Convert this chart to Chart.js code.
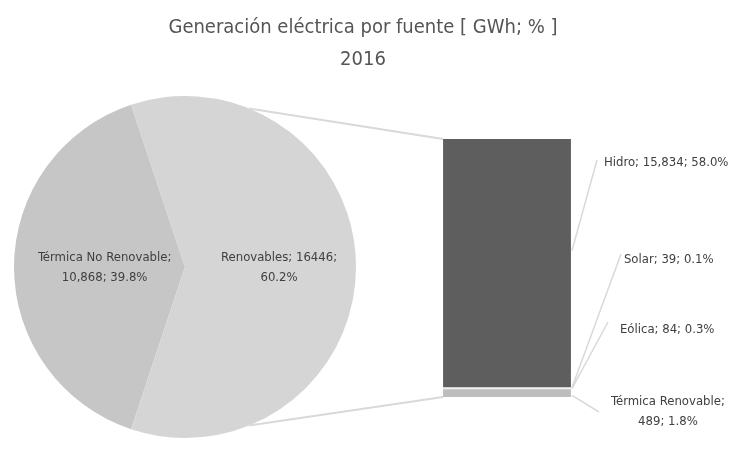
<!DOCTYPE html>
<html>
<head>
<meta charset="utf-8">
<script src="https://cdn.jsdelivr.net/npm/chart.js@4.4.1/dist/chart.umd.min.js"></script>
<style>
  html, body { margin: 0; padding: 0; background: #ffffff; }
  #wrap { position: relative; width: 741px; height: 457px; overflow: hidden; }
  #pie { position: absolute; left: 14px; top: 96px; }
  #bar { position: absolute; left: 0; top: 0; }
</style>
</head>
<body>
<div id="wrap">
  <canvas id="pie" width="342" height="342"></canvas>
  <canvas id="bar" width="741" height="457"></canvas>
</div>
<script>
// ---- data -------------------------------------------------------------
const titleLines = ['Generación eléctrica por fuente [ GWh; % ]', '2016'];

// main pie: total generation split
const pieCategories = ['Térmica No Renovable', 'Renovables'];
const pieValues = [10868, 16446];
const pieGrouping = [true, false];          // thousands separator in the label

// breakdown of the renewable slice, stacked bottom -> top
const barCategories = ['Térmica Renovable', 'Eólica', 'Solar', 'Hidro'];
const barValues = [489, 84, 39, 15834];

// x categories: the pie sits over the first slot, the bar in the second
const xSlots = ['Total', 'Renovables'];

// ---- styles -----------------------------------------------------------
const pieColors = ['#c6c6c6', '#d5d5d5'];
const barColors = ['#bdbdbd', '#efefef', '#f7f7f7', '#5e5e5e'];
const FONT = '"DejaVu Sans Condensed", "DejaVu Sans", sans-serif';
const LABEL_SIZE = 13;
const TEXT_COLOR = '#404040';
const LINE_COLOR = '#d9d9d9';
const PIE_OFFSET = { x: 14, y: 96 };         // pie canvas position in the page
const pieLabelRadius = [0.47, 0.55];         // label distance, fraction of radius
const pieLabelBreak = [1, 2];                // line break after this many parts
const CONNECTOR_ANGLE = 68 * Math.PI / 180;  // where the series lines leave the pie

// label boxes to the right of the bar: dx from bar's right edge, y of first line,
// line break position, leader start (fraction down the segment) and leader end point
const barLabelPlacement = {
  'Hidro':             { dx: 33, y: 163, align: 'left',   brk: 3, at: 0.45, lx: 597, ly: 160 },
  'Solar':             { dx: 53, y: 260, align: 'left',   brk: 3, at: 0.5,  lx: 621, ly: 254 },
  'Eólica':            { dx: 49, y: 330, align: 'left',   brk: 3, at: 0.5,  lx: 608, ly: 322 },
  'Térmica Renovable': { dx: 97, y: 402, align: 'center', brk: 1, at: 0.8,  lx: 599, ly: 412 }
};

// ---- helpers ----------------------------------------------------------
const grandTotal = pieValues.reduce((a, b) => a + b, 0);
const renewTotal = barValues.reduce((a, b) => a + b, 0);

function fmtNum(v, grouped) {
  return grouped ? v.toLocaleString('en-US') : String(v);
}
function pct(v) {
  return (v / grandTotal * 100).toFixed(1) + '%';
}
// "name; value; pct" split into lines after `brk` parts
function labelLines(parts, brk) {
  const a = parts.slice(0, brk).join('; ');
  const b = parts.slice(brk).join('; ');
  return b ? [a + ';', b] : [a];
}

// ---- pie chart --------------------------------------------------------
const pieShare = pieValues[0] / grandTotal;
const pieRotation = 270 - pieShare * 360 / 2;   // first slice centred on the left

const pieLabels = {
  id: 'pieLabels',
  afterDatasetsDraw(chart) {
    const ctx = chart.ctx;
    const arcs = chart.getDatasetMeta(0).data;
    ctx.save();
    ctx.font = LABEL_SIZE + 'px ' + FONT;
    ctx.fillStyle = TEXT_COLOR;
    ctx.textAlign = 'center';
    ctx.textBaseline = 'middle';
    arcs.forEach((arc, i) => {
      const mid = (arc.startAngle + arc.endAngle) / 2;
      const r = arc.outerRadius * pieLabelRadius[i];
      const cx = arc.x + Math.cos(mid) * r;
      const cy = arc.y + Math.sin(mid) * r + 1;
      const parts = [pieCategories[i], fmtNum(pieValues[i], pieGrouping[i]), pct(pieValues[i])];
      const lines = labelLines(parts, pieLabelBreak[i]);
      const lh = 20;
      lines.forEach((ln, k) => {
        ctx.fillText(ln, cx, cy + (k - (lines.length - 1) / 2) * lh);
      });
    });
    ctx.restore();
  }
};

const pieChart = new Chart(document.getElementById('pie'), {
  type: 'pie',
  data: {
    labels: pieCategories,
    datasets: [{
      data: pieValues,
      backgroundColor: pieColors,
      borderWidth: 0
    }]
  },
  options: {
    responsive: false,
    animation: false,
    rotation: pieRotation,
    layout: { padding: 0 },
    plugins: { legend: { display: false }, tooltip: { enabled: false } }
  },
  plugins: [pieLabels]
});

// ---- bar of the renewable slice ---------------------------------------
const barOverlay = {
  id: 'barOverlay',
  afterDatasetsDraw(chart) {
    const ctx = chart.ctx;
    const pieArc = pieChart.getDatasetMeta(0).data[1];
    const pcx = pieArc.x + PIE_OFFSET.x;
    const pcy = pieArc.y + PIE_OFFSET.y;
    const pr = pieArc.outerRadius;
    const top = chart.getDatasetMeta(barCategories.length - 1).data[1];
    const bottom = chart.getDatasetMeta(0).data[1];
    const barLeft = top.x - top.width / 2;

    ctx.save();
    // series lines from the renewable slice to the bar corners
    ctx.strokeStyle = LINE_COLOR;
    ctx.lineWidth = 2;
    [[-1, top.y], [1, bottom.base]].forEach(([s, y]) => {
      const ang = s * CONNECTOR_ANGLE;
      ctx.beginPath();
      ctx.moveTo(pcx + Math.cos(ang) * pr, pcy + Math.sin(ang) * pr);
      ctx.lineTo(barLeft, y);
      ctx.stroke();
    });

    // leader lines and data labels
    ctx.font = LABEL_SIZE + 'px ' + FONT;
    ctx.fillStyle = TEXT_COLOR;
    ctx.textBaseline = 'middle';
    ctx.lineWidth = 1.5;
    barCategories.forEach((name, i) => {
      const el = chart.getDatasetMeta(i).data[1];
      const right = el.x + el.width / 2;
      const p = barLabelPlacement[name];
      const startY = el.y + (el.base - el.y) * p.at;
      ctx.beginPath();
      ctx.moveTo(right + 1, startY);
      ctx.lineTo(p.lx, p.ly);
      ctx.stroke();

      const parts = [name, fmtNum(barValues[i], true), pct(barValues[i])];
      const lines = labelLines(parts, p.brk);
      ctx.textAlign = p.align;
      lines.forEach((ln, k) => {
        ctx.fillText(ln, right + p.dx, p.y + k * 20);
      });
    });
    ctx.restore();
  }
};

new Chart(document.getElementById('bar'), {
  type: 'bar',
  data: {
    labels: xSlots,
    datasets: barCategories.map((name, i) => ({
      label: name,
      data: [null, barValues[i]],
      backgroundColor: barColors[i],
      borderWidth: 0,
      barPercentage: 0.444,
      categoryPercentage: 1
    }))
  },
  options: {
    responsive: false,
    animation: false,
    layout: { padding: { left: 75, right: 90, top: 0, bottom: 60 } },
    scales: {
      x: { display: false, stacked: true },
      y: { display: false, stacked: true, min: 0, max: renewTotal }
    },
    plugins: {
      legend: { display: false },
      tooltip: { enabled: false },
      title: {
        display: true,
        text: titleLines,
        color: '#555555',
        font: { family: FONT, size: 20, weight: 'normal', lineHeight: 1.6 },
        padding: { top: 12, bottom: 63 }
      }
    }
  },
  plugins: [barOverlay]
});
</script>
</body>
</html>
